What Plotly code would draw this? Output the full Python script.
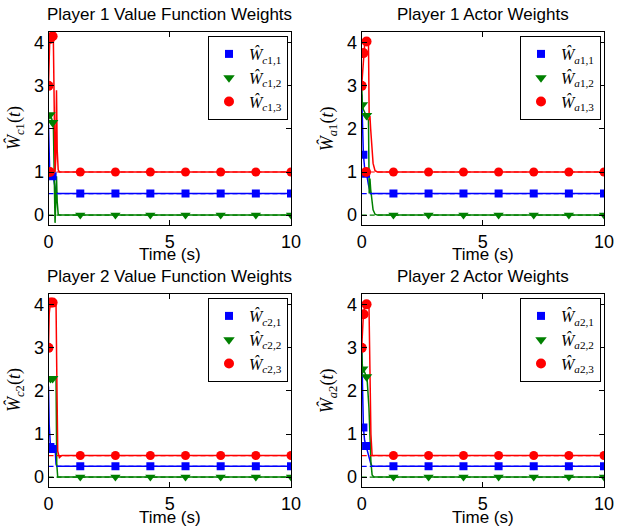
import plotly.graph_objects as go

W, H = 632, 529

# ---------------- data ----------------
x_ticks = [0, 5, 10]
y_ticks = [0, 1, 2, 3, 4]

series_colors = ["#0000ff", "#008000", "#ff0000"]
series_symbols = ["square", "triangle-down", "circle"]

# ideal (converged) weights
ideal_p1 = [0.5, 0.0, 1.0]
ideal_p2 = [0.25, 0.0, 0.5]
ideal_mark_t = [1.31, 2.76, 4.2, 5.65, 7.1, 8.55, 10.0]

# Player 1 value function weights (critic)
c1_t = [0, 0.02, 0.05, 0.1, 0.15, 0.2, 0.24, 0.27, 0.3, 0.33, 0.36, 0.4, 0.45, 0.5, 0.6, 10]
c1_w1 = [2.1, 1.5, 1.0, 0.92, 0.9, 0.88, 0.75, 0.6, 0.55, 0.52, 0.5, 0.5, 0.5, 0.5, 0.5, 0.5]
c1_w2 = [2.3, 2.3, 2.33, 2.3, 2.2, 2.1, 0.8, -0.18, 0.3, 0.9, 0.3, 0.02, 0.0, 0.0, 0.0, 0.0]
c1_w3 = [3.0, 3.6, 4.05, 4.12, 4.15, 4.1, 2.0, 1.0, 1.3, 2.9, 1.5, 1.05, 1.0, 1.0, 1.0, 1.0]
c1_marks_w1 = [(0.06, 0.92), (0.17, 0.9)]
c1_marks_w2 = [(0.06, 2.33), (0.17, 2.15)]
c1_marks_w3 = [(0.0, 3.0), (0.06, 4.09), (0.17, 4.15), (0.06, 1.0)]

# Player 1 actor weights
a1_t = [0, 0.03, 0.07, 0.12, 0.2, 0.28, 0.31, 0.34, 0.37, 0.41, 0.47, 0.55, 0.65, 10]
a1_w1 = [2.8, 2.0, 1.4, 1.1, 0.96, 0.7, 0.6, 0.52, 0.5, 0.5, 0.5, 0.5, 0.5, 0.5]
a1_w2 = [3.0, 2.56, 2.45, 2.38, 2.31, 2.2, 0.5, 0.85, 0.6, 0.35, 0.12, 0.02, 0.0, 0.0]
a1_w3 = [3.0, 3.3, 3.76, 3.95, 4.03, 4.0, 2.2, 2.3, 2.0, 1.6, 1.2, 1.03, 1.0, 1.0]
a1_marks_w1 = [(0.07, 1.4), (0.18, 0.96)]
a1_marks_w2 = [(0.03, 2.56), (0.2, 2.31)]
a1_marks_w3 = [(0.0, 3.0), (0.07, 3.76), (0.2, 4.03), (0.18, 1.0)]

# Player 2 value function weights (critic)
c2_t = [0, 0.03, 0.08, 0.15, 0.22, 0.28, 0.31, 0.34, 0.38, 0.45, 0.55, 10]
c2_w1 = [2.1, 1.2, 0.72, 0.68, 0.65, 0.6, 0.3, 0.25, 0.25, 0.25, 0.25, 0.25]
c2_w2 = [2.3, 2.3, 2.3, 2.3, 2.3, 2.3, 2.3, 0.3, 0.0, 0.0, 0.0, 0.0]
c2_w3 = [3.0, 3.8, 4.05, 4.05, 4.05, 4.05, 4.05, 2.5, 0.6, 0.45, 0.5, 0.5]
c2_marks_w1 = [(0.08, 0.7), (0.17, 0.65)]
c2_marks_w2 = [(0.08, 2.29), (0.17, 2.29)]
c2_marks_w3 = [(0.0, 3.0), (0.08, 4.05), (0.17, 4.05)]

# Player 2 actor weights
a2_t = [0, 0.03, 0.07, 0.12, 0.18, 0.22, 0.3, 0.34, 0.38, 0.43, 0.5, 0.6, 10]
a2_w1 = [3.0, 1.8, 1.15, 0.85, 0.72, 0.68, 0.5, 0.4, 0.3, 0.26, 0.25, 0.25, 0.25]
a2_w2 = [3.0, 2.55, 2.5, 2.42, 2.35, 2.3, 1.6, 0.9, 0.35, 0.05, 0.0, 0.0, 0.0]
a2_w3 = [3.0, 3.4, 3.78, 3.95, 4.01, 4.01, 4.0, 2.5, 1.0, 0.5, 0.5, 0.5, 0.5]
a2_marks_w1 = [(0.07, 1.15), (0.18, 0.72)]
a2_marks_w2 = [(0.04, 2.51), (0.2, 2.33)]
a2_marks_w3 = [(0.0, 3.0), (0.08, 3.78), (0.2, 4.01)]

titles = ["Player 1 Value Function Weights", "Player 1 Actor Weights",
          "Player 2 Value Function Weights", "Player 2 Actor Weights"]
subs = ["c1", "a1", "c2", "a2"]
x_label = "Time (s)"

# ---------------- layout (pixels) ----------------
col_x = [(48.5, 291.0), (361.7, 604.0)]
row_y = [(32.0, 225.0), (294.0, 487.0)]
y_range = [-0.23, 4.25]

def px(x):
    return x / W

def py(y):
    return 1 - y / H

panels = [
    (c1_t, [c1_w1, c1_w2, c1_w3], [c1_marks_w1, c1_marks_w2, c1_marks_w3], ideal_p1),
    (a1_t, [a1_w1, a1_w2, a1_w3], [a1_marks_w1, a1_marks_w2, a1_marks_w3], ideal_p1),
    (c2_t, [c2_w1, c2_w2, c2_w3], [c2_marks_w1, c2_marks_w2, c2_marks_w3], ideal_p2),
    (a2_t, [a2_w1, a2_w2, a2_w3], [a2_marks_w1, a2_marks_w2, a2_marks_w3], ideal_p2),
]

fig = go.Figure()
annotations = []
layout_extra = {}

sans = "Liberation Sans, Arial, sans-serif"
serif = "Liberation Serif, Times New Roman, serif"

for i, (t, ws, marks, ideal) in enumerate(panels):
    r, c = divmod(i, 2)
    n = i + 1
    xa = "x" if n == 1 else f"x{n}"
    ya = "y" if n == 1 else f"y{n}"
    leg = "legend" if n == 1 else f"legend{n}"
    sub = subs[i]
    x0, x1 = col_x[c]
    y0, y1 = row_y[r]

    # solid trajectories
    for k in range(3):
        fig.add_trace(go.Scatter(x=t, y=ws[k], mode="lines", xaxis=xa, yaxis=ya,
                                 line=dict(color=series_colors[k], width=1.5),
                                 showlegend=False, hoverinfo="skip"))
    # dashed ideal values
    for k in range(3):
        fig.add_trace(go.Scatter(x=[0, 10], y=[ideal[k], ideal[k]], mode="lines",
                                 xaxis=xa, yaxis=ya,
                                 line=dict(color=series_colors[k], width=1.2, dash="5px,3px"),
                                 showlegend=False, hoverinfo="skip"))
        fig.add_trace(go.Scatter(x=ideal_mark_t, y=[ideal[k]] * len(ideal_mark_t), mode="markers",
                                 xaxis=xa, yaxis=ya,
                                 marker=dict(color=series_colors[k], symbol=series_symbols[k],
                                             size=9 if k else 8),
                                 showlegend=False, hoverinfo="skip"))
    # early markers + legend entries
    for k in range(3):
        mx = [p[0] for p in marks[k]]
        my = [p[1] for p in marks[k]]
        label = f"<i>Ŵ</i><sub><i>{sub[0]}</i>{sub[1]},{k + 1}</sub>"
        fig.add_trace(go.Scatter(x=mx, y=my, mode="markers", xaxis=xa, yaxis=ya,
                                 marker=dict(color=series_colors[k], symbol=series_symbols[k],
                                             size=10 if k else 8),
                                 name=label, legend=leg, showlegend=True, hoverinfo="skip"))

    axis_common = dict(showline=True, linecolor="black", linewidth=1, mirror="ticks",
                       ticks="inside", ticklen=5, tickcolor="black", showgrid=False,
                       zeroline=False, tickfont=dict(family=sans, size=18, color="black"),
                       automargin=False)
    layout_extra["xaxis" if n == 1 else f"xaxis{n}"] = dict(
        domain=[px(x0), px(x1)], range=[0, 10], tickvals=x_ticks, anchor=ya,
        ticklabelstandoff=0, **axis_common)
    layout_extra["yaxis" if n == 1 else f"yaxis{n}"] = dict(
        domain=[py(y1), py(y0)], range=y_range, tickvals=y_ticks, anchor=xa, **axis_common)
    layout_extra[leg] = dict(
        x=px(x1 - 3), y=py(y0 + 4), xanchor="right", yanchor="top",
        bgcolor="white", bordercolor="black", borderwidth=1,
        font=dict(family=serif, size=16, color="black"),
        tracegroupgap=0, itemwidth=30)

    cx = (x0 + x1) / 2
    annotations.append(dict(text=titles[i], x=px(cx), y=py(y0 - 18), xref="paper", yref="paper",
                            showarrow=False, xanchor="center", yanchor="middle", borderpad=0,
                            font=dict(family=sans, size=17, color="black")))
    annotations.append(dict(text=x_label, x=px(cx), y=py(y1 + 30), xref="paper", yref="paper",
                            showarrow=False, xanchor="center", yanchor="middle", borderpad=0,
                            font=dict(family=sans, size=17, color="black")))
    annotations.append(dict(text=f"<i>Ŵ</i><sub><i>{sub[0]}</i>{sub[1]}</sub>(<i>t</i>)",
                            x=px(x0 - 34), y=py((y0 + y1) / 2), xref="paper", yref="paper",
                            showarrow=False, xanchor="center", yanchor="middle", textangle=-90,
                            font=dict(family=serif, size=18, color="black")))

fig.update_layout(width=W, height=H, margin=dict(l=0, r=0, t=0, b=0),
                  paper_bgcolor="white", plot_bgcolor="white",
                  annotations=annotations, **layout_extra)

fig.write_html("out.html", config={"displayModeBar": False},
               post_script="document.body.style.margin='0';document.body.style.overflow='hidden';")
